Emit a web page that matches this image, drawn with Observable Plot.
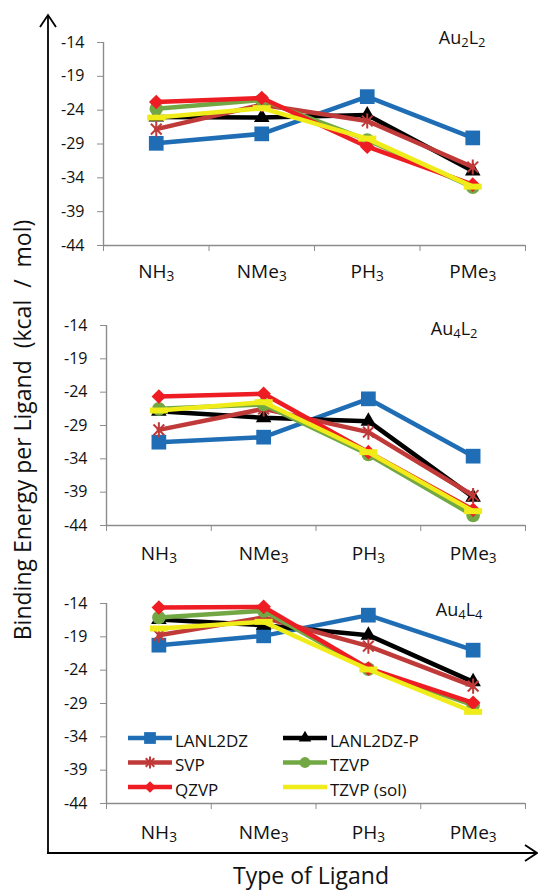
<!DOCTYPE html>
<html><head><meta charset="utf-8">
<script src="https://cdn.jsdelivr.net/npm/d3@7"></script>
<script src="https://cdn.jsdelivr.net/npm/@observablehq/plot@0.6"></script>
<style>
html,body{margin:0;padding:0;background:#fff;}
#chart{position:relative;width:538px;height:892px;font-family:"Open Sans",sans-serif;overflow:hidden;}
#chart > svg{position:absolute;left:0;}
</style></head><body><div id="chart"></div>
<script>
// ---- data ----
const categories = ["NH3", "NMe3", "PH3", "PMe3"];
const seriesNames = ["LANL2DZ", "LANL2DZ-P", "SVP", "TZVP", "QZVP", "TZVP (sol)"];
const seriesColors = ["#1F6EB5", "#000000", "#BF3A38", "#72A844", "#EE1D23", "#F0EC1A"];
const panelTitles = ["Au2L2", "Au4L2", "Au4L4"];
const yTicks = [-44, -39, -34, -29, -24, -19, -14];
// rows: series (order above), columns: categories
const au2l2 = [
  [-28.9, -27.5, -22.0, -28.1],
  [-25.0, -25.1, -24.7, -33.0],
  [-26.8, -23.2, -25.6, -32.4],
  [-23.8, -22.5, -28.4, -35.4],
  [-22.8, -22.2, -29.4, -35.0],
  [-25.1, -23.7, -28.2, -35.3]
];
const au4l2 = [
  [-31.5, -30.75, -25.0, -33.6],
  [-26.85, -27.85, -28.35, -39.75],
  [-29.65, -26.5, -30.0, -39.5],
  [-26.5, -25.85, -33.35, -42.5],
  [-24.65, -24.25, -33.0, -41.65],
  [-26.75, -25.5, -33.0, -41.85]
];
const au4l4 = [
  [-20.25, -18.85, -15.75, -21.0],
  [-16.4, -17.25, -18.75, -25.75],
  [-18.75, -16.1, -20.4, -26.4],
  [-16.1, -15.1, -23.85, -29.25],
  [-14.6, -14.5, -23.75, -28.9],
  [-17.75, -16.75, -23.9, -30.25]
];

// ---- symbols ----
const diamondSym = {draw(ctx, size) { const h = Math.sqrt(size) * 0.62625; ctx.moveTo(0, -h); ctx.lineTo(h, 0); ctx.lineTo(0, h); ctx.lineTo(-h, 0); ctx.closePath(); }};
const asteriskSym = {draw(ctx, size) { const r = Math.sqrt(size) * 0.59436, d = r * Math.SQRT1_2;
  ctx.moveTo(0, -r); ctx.lineTo(0, r); ctx.moveTo(-d, -d); ctx.lineTo(d, d); ctx.moveTo(-d, d); ctx.lineTo(d, -d); }};
const dashSym = {draw(ctx, size) { const w = Math.sqrt(size) * 0.9, h = w * 0.33; ctx.rect(-w / 2, -h / 2, w, h); }};
const symbols = [d3.symbolSquare, d3.symbolTriangle, asteriskSym, d3.symbolCircle, diamondSym, dashSym];
const radii = [8.3, 5.8, 7.2, 6.8, 6.6, 11.3];
const strokeOnly = [false, false, true, false, false, false];
const gray = "#8c8c8c";

function subify(root, shift) {
  root.querySelectorAll("text").forEach(t => {
    const s = t.textContent;
    if (!/[A-Za-z]\d/.test(s)) return;
    while (t.firstChild) t.removeChild(t.firstChild);
    const re = /(\d+)|(\D+)/g; let m;
    while ((m = re.exec(s))) {
      const ts = document.createElementNS("http://www.w3.org/2000/svg", "tspan");
      ts.textContent = m[0];
      if (m[1]) { ts.setAttribute("font-size", "72%"); ts.setAttribute("baseline-shift", shift); }
      t.appendChild(ts);
    }
  });
}

function panel(values, title, o) {
  const rows = [];
  seriesNames.forEach((s, si) => categories.forEach((c, ci) => rows.push({series: s, si, ci, value: values[si][ci]})));
  const marks = [
    Plot.ruleX([0], {stroke: gray, strokeWidth: 1.4}),
    Plot.ruleY([-44], {stroke: gray, strokeWidth: 1.4}),
    Plot.axisY({ticks: yTicks, tickSize: 6, tickPadding: 13, tickFormat: d => String(d), label: null, stroke: gray, fontSize: 16, fill: "#111"}),
    Plot.axisX({ticks: [0, 1, 2, 3, 4], tickSize: 6, tickFormat: () => "", label: null, stroke: gray}),
    Plot.axisX({ticks: [0.5, 1.5, 2.5, 3.5], tickSize: 0, tickPadding: o.catPad, tickFormat: v => categories[Math.floor(v)], label: null, fontSize: 19, fill: "#111"})
  ];
  seriesNames.forEach((s, si) => {
    const d = rows.filter(r => r.si === si);
    marks.push(Plot.line(d, {x: r => r.ci + 0.5, y: "value", stroke: seriesColors[si], strokeWidth: 4.5, strokeLinejoin: "round"}));
    marks.push(Plot.dot(d, {x: r => r.ci + 0.5, y: "value", symbol: symbols[si], r: radii[si],
      fill: strokeOnly[si] ? "none" : seriesColors[si], stroke: strokeOnly[si] ? seriesColors[si] : "none", strokeWidth: 2}));
  });
  marks.push(Plot.text([title], {frameAnchor: "top-right", dx: o.tdx, dy: o.tdy, textAnchor: "end", lineAnchor: "bottom", fontSize: 18, fill: "#111"}));
  const svg = Plot.plot({
    width: 538, height: o.height, marginTop: 42, marginBottom: o.height - 42 - o.plotH, marginLeft: o.ml, marginRight: 13,
    x: {domain: [0, 4]}, y: {domain: [-44, -14], label: null},
    style: {background: "transparent", overflow: "visible", fontFamily: "'Open Sans', sans-serif"},
    marks
  });
  subify(svg, "-22%");
  svg.style.top = o.top + "px";
  return svg;
}

const chart = document.getElementById("chart");

// outer frame (axes arrows and titles)
const frame = d3.create("svg").attr("width", 538).attr("height", 892).style("top", "0px");
frame.append("line").attr("x1", 48).attr("x2", 48).attr("y1", 15).attr("y2", 854).attr("stroke", "#000").attr("stroke-width", 1.8);
frame.append("path").attr("d", "M40,27L48,15L56,27").attr("fill", "none").attr("stroke", "#000").attr("stroke-width", 1.8);
frame.append("line").attr("x1", 47).attr("x2", 537).attr("y1", 853).attr("y2", 853).attr("stroke", "#000").attr("stroke-width", 1.8);
frame.append("path").attr("d", "M525,845L537,853L525,861").attr("fill", "none").attr("stroke", "#000").attr("stroke-width", 1.8);
frame.append("text").text("Binding Energy per Ligand  (kcal  /  mol)")
  .attr("transform", "translate(22,430) rotate(-90)").attr("text-anchor", "middle").attr("dominant-baseline", "central")
  .style("white-space", "pre").attr("font-size", 23).attr("font-family", "'Open Sans', sans-serif").attr("fill", "#111");
frame.append("text").text("Type of Ligand").attr("x", 311).attr("y", 884).attr("text-anchor", "middle")
  .attr("font-size", 23).attr("font-family", "'Open Sans', sans-serif").attr("fill", "#111");
chart.appendChild(frame.node());

chart.appendChild(panel(au2l2, panelTitles[0], {top: 0, height: 290, plotH: 203, ml: 103, catPad: 19, tdx: -40, tdy: 1}));
chart.appendChild(panel(au4l2, panelTitles[1], {top: 283, height: 287, plotH: 200, ml: 106, catPad: 21, tdx: -48, tdy: 9}));
chart.appendChild(panel(au4l4, panelTitles[2], {top: 561, height: 287, plotH: 200, ml: 106, catPad: 22, tdx: -43, tdy: 12}));

// legend (inside bottom panel)
const leg = d3.create("svg").attr("width", 538).attr("height", 892).style("top", "0px").style("pointer-events", "none");
seriesNames.forEach((s, i) => {
  const col = i % 2, row = Math.floor(i / 2);
  const x0 = col ? 283 : 128, y = 738 + row * 24.5;
  const g = leg.append("g");
  g.append("line").attr("x1", x0).attr("x2", x0 + 44).attr("y1", y).attr("y2", y).attr("stroke", seriesColors[i]).attr("stroke-width", 4.5);
  if (i < 5) {
    const size = Math.PI * Math.pow(radii[i] * 0.8, 2);
    g.append("path").attr("d", d3.symbol(symbols[i], size)()).attr("transform", `translate(${x0 + 22},${y})`)
      .attr("fill", strokeOnly[i] ? "none" : seriesColors[i]).attr("stroke", strokeOnly[i] ? seriesColors[i] : "none").attr("stroke-width", 2);
  }
  g.append("text").text(s).attr("x", x0 + 47).attr("y", y + 2).attr("dominant-baseline", "central")
    .style("white-space", "pre").attr("font-size", 17).attr("font-family", "'Open Sans', sans-serif").attr("fill", "#111");
});
chart.appendChild(leg.node());
</script></body></html>
